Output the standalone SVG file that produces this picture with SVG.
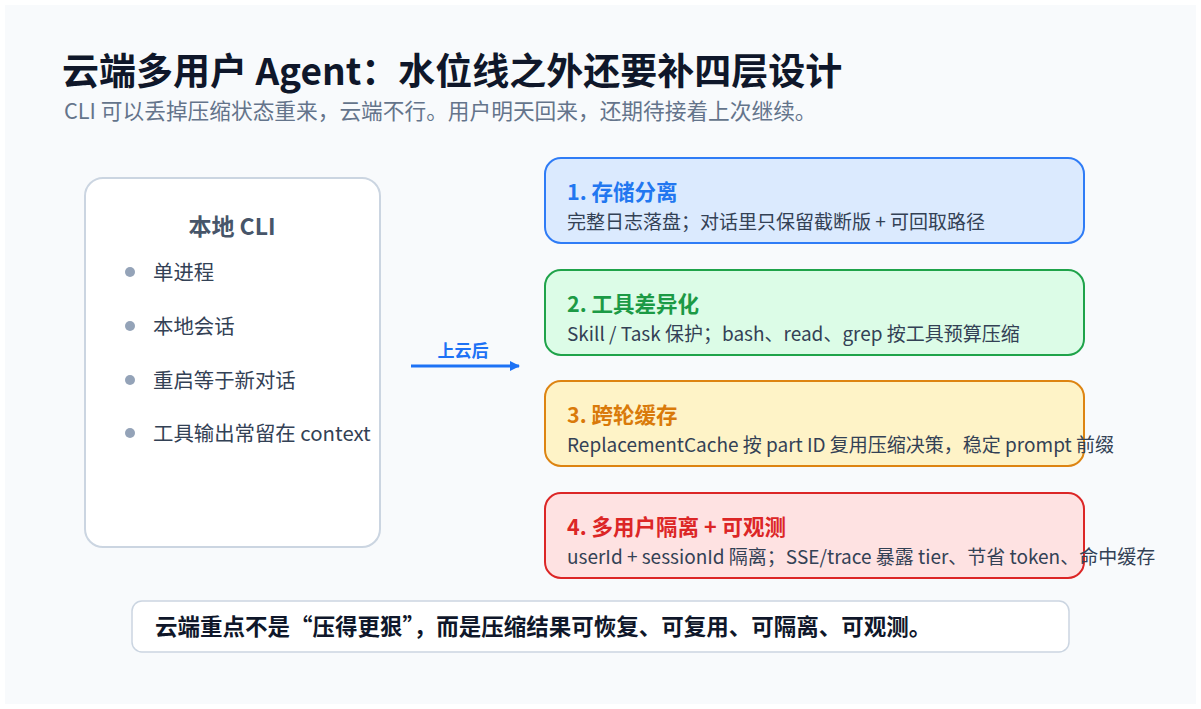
<svg xmlns="http://www.w3.org/2000/svg" width="1201" height="709" viewBox="0 0 1201 709">
<style>
text{font-family:"Noto Sans CJK SC","Noto Sans",sans-serif}
.t{font-size:37px;font-weight:700;fill:#0f172a}
.s{font-size:21.7px;fill:#64748b}
.h{font-size:21.5px;font-weight:700}
.d{font-size:19px;fill:#334155}
.li{font-size:20.4px;fill:#334155}
.dot{fill:#94a3b8}
</style>
<defs><marker id="a" markerWidth="10" markerHeight="10" refX="9" refY="5" orient="auto" markerUnits="userSpaceOnUse"><path d="M0,0 L10,5 L0,10 z" fill="#1d72f5"/></marker></defs>
<rect x="0" y="0" width="1201" height="709" fill="#ffffff"/>
<rect x="5" y="5" width="1191" height="699" fill="#f8fafc"/>
<text class="t" x="62" y="85">云端多用户 Agent：水位线之外还要补四层设计</text>
<text class="s" x="64" y="119">CLI 可以丢掉压缩状态重来，云端不行。用户明天回来，还期待接着上次继续。</text>
<g id="cli">
<rect x="85" y="178" width="295" height="369" rx="18" fill="#ffffff" stroke="#cbd5e1" stroke-width="2"/>
<text x="232" y="235" text-anchor="middle" style="font-size:23px;font-weight:700;fill:#475569">本地 CLI</text>
<circle class="dot" cx="130" cy="272" r="5"/><text class="li" x="153" y="280">单进程</text>
<circle class="dot" cx="130" cy="326" r="5"/><text class="li" x="153" y="334">本地会话</text>
<circle class="dot" cx="130" cy="380" r="5"/><text class="li" x="153" y="388">重启等于新对话</text>
<circle class="dot" cx="130" cy="433" r="5"/><text class="li" x="153" y="441">工具输出常留在 context</text>
</g>
<g id="connectors">
<line x1="411" y1="366" x2="519" y2="366" stroke="#1d72f5" stroke-width="3" marker-end="url(#a)"/>
<text x="463" y="357" text-anchor="middle" style="font-size:17px;font-weight:700;fill:#1d72f5">上云后</text>
</g>
<g id="n1"><rect x="545" y="158" width="539" height="85" rx="16" fill="#dbeafe" stroke="#2f7cf6" stroke-width="2"/>
<text class="h" x="567" y="200" fill="#2277f0">1. 存储分离</text><text class="d" x="567" y="229">完整日志落盘；对话里只保留截断版 + 可回取路径</text></g>
<g id="n2"><rect x="545" y="270" width="539" height="85" rx="16" fill="#dcfce7" stroke="#1fa34a" stroke-width="2"/>
<text class="h" x="567" y="312" fill="#1c9a45">2. 工具差异化</text><text class="d" x="567" y="341">Skill / Task 保护；bash、read、grep 按工具预算压缩</text></g>
<g id="n3"><rect x="545" y="381" width="539" height="85" rx="16" fill="#fef3c7" stroke="#dd8412" stroke-width="2"/>
<text class="h" x="567" y="423" fill="#d97a0a">3. 跨轮缓存</text><text class="d" x="567" y="452">ReplacementCache 按 part ID 复用压缩决策，稳定 prompt 前缀</text></g>
<g id="n4"><rect x="545" y="493" width="539" height="85" rx="16" fill="#fee2e2" stroke="#dc2626" stroke-width="2"/>
<text class="h" x="567" y="535" fill="#dc2626">4. 多用户隔离 + 可观测</text><text class="d" x="567" y="564">userId + sessionId 隔离；SSE/trace 暴露 tier、节省 token、命中缓存</text></g>
<g id="note"><rect x="132" y="601" width="937" height="51" rx="10" fill="#ffffff" stroke="#cbd5e1" stroke-width="1.5"/>
<text x="155" y="635" style="font-size:22.5px;font-weight:700;fill:#0f172a">云端重点不是“压得更狠”，而是压缩结果可恢复、可复用、可隔离、可观测。</text></g>
</svg>
